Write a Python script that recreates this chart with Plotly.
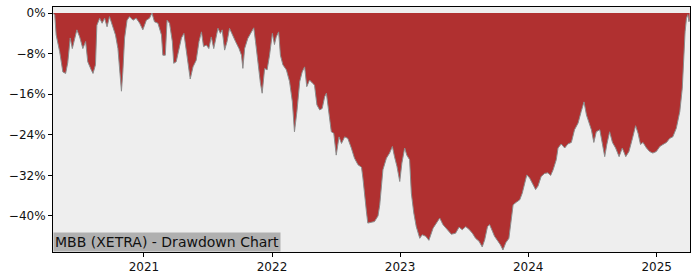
import plotly.graph_objects as go

dates = [
    "2020-04-17", "2020-04-22", "2020-04-26", "2020-05-06", "2020-05-15", "2020-05-23", "2020-05-29",
    "2020-06-05", "2020-06-11", "2020-06-18", "2020-06-24", "2020-07-02", "2020-07-11", "2020-07-19",
    "2020-07-25", "2020-08-04", "2020-08-09", "2020-08-16", "2020-08-20", "2020-08-28", "2020-09-04",
    "2020-09-11", "2020-09-18", "2020-09-25", "2020-10-03", "2020-10-12", "2020-10-19", "2020-10-24",
    "2020-10-29", "2020-11-02", "2020-11-07", "2020-11-14", "2020-11-21", "2020-12-01", "2020-12-10",
    "2020-12-20", "2020-12-29",
    "2021-01-08", "2021-01-17", "2021-01-24", "2021-01-31", "2021-02-10", "2021-02-20", "2021-02-24",
    "2021-03-03", "2021-03-08", "2021-03-15", "2021-03-23", "2021-03-27", "2021-04-03", "2021-04-11",
    "2021-04-18", "2021-04-25", "2021-05-02", "2021-05-06", "2021-05-13", "2021-05-21", "2021-05-30",
    "2021-06-07", "2021-06-14", "2021-06-20", "2021-06-28", "2021-07-05", "2021-07-12", "2021-07-19",
    "2021-07-26", "2021-07-31", "2021-08-07", "2021-08-12", "2021-08-19", "2021-08-26", "2021-09-02",
    "2021-09-10", "2021-09-19", "2021-09-29", "2021-10-06", "2021-10-10", "2021-10-15", "2021-10-24",
    "2021-11-03", "2021-11-10", "2021-11-15", "2021-11-22", "2021-11-29", "2021-12-04", "2021-12-11",
    "2021-12-18", "2021-12-25",
    "2022-01-02", "2022-01-08", "2022-01-13", "2022-01-20", "2022-01-25", "2022-02-01", "2022-02-11",
    "2022-02-20", "2022-02-28", "2022-03-06", "2022-03-13", "2022-03-21", "2022-03-28", "2022-04-04",
    "2022-04-10", "2022-04-18", "2022-04-26", "2022-05-02", "2022-05-09", "2022-05-17", "2022-05-24",
    "2022-05-31", "2022-06-05", "2022-06-12", "2022-06-19", "2022-06-26", "2022-07-03", "2022-07-11",
    "2022-07-18", "2022-07-27", "2022-08-05", "2022-08-15", "2022-08-24", "2022-09-03", "2022-09-13",
    "2022-09-17", "2022-09-22", "2022-09-27", "2022-10-01", "2022-10-11", "2022-10-20", "2022-10-30",
    "2022-11-04", "2022-11-13", "2022-11-23", "2022-12-02", "2022-12-10", "2022-12-16", "2022-12-23",
    "2022-12-31",
    "2023-01-06", "2023-01-14", "2023-01-20", "2023-01-28", "2023-02-02", "2023-02-09", "2023-02-16",
    "2023-02-26", "2023-03-05", "2023-03-15", "2023-03-24", "2023-04-05", "2023-04-16", "2023-04-24",
    "2023-05-03", "2023-05-14", "2023-05-27", "2023-06-08", "2023-06-18", "2023-06-27", "2023-07-07",
    "2023-07-16", "2023-07-26", "2023-08-04", "2023-08-14", "2023-08-23", "2023-08-30", "2023-09-07",
    "2023-09-13", "2023-09-21", "2023-09-27", "2023-10-07", "2023-10-14", "2023-10-21", "2023-10-29",
    "2023-11-07", "2023-11-14", "2023-11-19", "2023-11-28", "2023-12-08", "2023-12-15", "2023-12-22",
    "2023-12-28",
    "2024-01-05", "2024-01-13", "2024-01-22", "2024-01-29", "2024-02-07", "2024-02-17", "2024-02-26",
    "2024-03-05", "2024-03-12", "2024-03-21", "2024-03-26", "2024-04-04", "2024-04-14", "2024-04-23",
    "2024-05-03", "2024-05-12", "2024-05-22", "2024-05-31", "2024-06-08", "2024-06-15", "2024-06-22",
    "2024-06-29", "2024-07-06", "2024-07-13", "2024-07-23", "2024-07-30", "2024-08-06", "2024-08-12",
    "2024-08-20", "2024-08-28", "2024-09-06", "2024-09-16", "2024-09-25", "2024-10-05", "2024-10-14",
    "2024-10-24", "2024-11-02", "2024-11-09", "2024-11-16", "2024-11-23", "2024-12-03", "2024-12-12",
    "2024-12-21", "2024-12-31",
    "2025-01-10", "2025-01-19", "2025-01-29", "2025-02-07", "2025-02-16", "2025-02-26", "2025-03-08",
    "2025-03-15", "2025-03-19", "2025-03-23", "2025-03-27", "2025-03-31", "2025-04-03", "2025-04-05",
]

drawdown_pct = [
    0.0, -0.4, -4.3, -7.6, -11.6, -11.9, -9.8,
    -4.9, -7.0, -4.7, -3.3, -4.7, -7.0, -5.6,
    -9.6, -11.2, -11.9, -10.2, -2.4, -1.0, -2.0,
    -1.0, -2.7, -0.7, -2.4, -4.3, -7.0, -10.9,
    -15.4, -11.6, -4.9, -1.4, -0.7, -1.4, -1.0,
    -2.0, -3.3,
    -1.4, -1.0, 0.0, -1.7, -2.0, -4.3, -8.3,
    -8.3, -1.4, -2.0, -5.6, -9.9, -9.6, -7.0,
    -4.9, -4.0, -7.6, -10.2, -13.0, -10.6, -9.3,
    -5.6, -3.7, -6.6, -6.3, -7.0, -4.7, -7.0,
    -4.7, -3.0, -4.0, -3.3, -7.3, -5.6, -3.0,
    -4.3, -5.6, -7.0, -8.3, -10.9, -7.0, -5.0,
    -3.7, -2.9, -5.6, -10.2, -13.8, -15.8, -10.9,
    -11.2, -8.3,
    -4.0, -6.2, -4.7, -3.7, -8.3, -10.2, -11.2,
    -13.5, -17.5, -23.4, -19.4, -13.5, -11.6, -10.6,
    -14.5, -13.2, -13.8, -14.2, -18.1, -19.1, -18.8,
    -16.5, -15.8, -20.1, -23.4, -23.7, -28.0, -24.4,
    -25.7, -24.4, -24.7, -26.6, -28.6, -29.9, -30.4,
    -32.5, -36.5, -39.1, -41.4, -41.2, -41.1, -40.0,
    -37.8, -30.9, -28.6, -27.6, -26.3, -28.3, -30.2,
    -33.2,
    -29.6, -26.6, -28.0, -28.9, -35.5, -39.4, -42.1,
    -44.4, -43.7, -44.0, -44.8, -42.4, -41.1, -40.4,
    -41.7, -42.6, -43.6, -43.4, -42.2, -42.7, -42.1,
    -42.6, -43.4, -44.4, -45.0, -46.1, -44.7, -42.1,
    -41.7, -43.0, -44.0, -45.0, -45.7, -46.7, -45.3,
    -44.4, -41.1, -37.8, -37.3, -36.8, -35.5, -33.2,
    -31.9,
    -32.5, -33.5, -34.8, -34.1, -32.2, -31.6, -31.5,
    -32.0, -30.9, -28.9, -26.6, -25.8, -26.6, -25.8,
    -25.5, -23.0, -21.7, -19.4, -17.5, -20.1, -21.7,
    -23.0, -25.5, -23.4, -23.0, -25.5, -28.3, -25.9,
    -23.4, -25.5, -26.6, -28.3, -26.6, -28.3, -27.3,
    -24.7, -22.2, -23.7, -25.9, -25.5, -26.6, -27.3,
    -27.6, -27.3,
    -26.3, -25.9, -25.5, -24.7, -24.4, -22.7, -19.4,
    -14.8, -8.3, -3.7, -1.0, -0.3, -1.7, -1.2,
]

y_tickvals = [0, -8, -16, -24, -32, -40]
y_ticktext = ["0%", "\u22128%", "\u221216%", "\u221224%", "\u221232%", "\u221240%"]
x_tickvals = ["2021-01-01", "2022-01-01", "2023-01-01", "2024-01-01", "2025-01-01"]
x_ticktext = ["2021", "2022", "2023", "2024", "2025"]
title_text = "MBB (XETRA) - Drawdown Chart"

fig = go.Figure()
fig.add_trace(go.Scatter(
    x=dates, y=drawdown_pct, mode="lines", fill="tozeroy",
    fillcolor="#B03030", line=dict(color="#8C8C8C", width=1),
    hoverinfo="skip", showlegend=False,
))

axis_common = dict(
    showline=True, linecolor="black", linewidth=1, mirror=True,
    ticks="outside", ticklen=4, tickcolor="black", tickwidth=1,
    showgrid=False, zeroline=False, automargin=False,
    tickfont=dict(family="DejaVu Sans", size=12, color="#111111"),
)

fig.update_layout(
    width=700, height=280,
    margin=dict(l=53, r=10, t=7, b=28),
    paper_bgcolor="white", plot_bgcolor="#EEEEEE",
    xaxis=dict(range=["2020-04-17", "2025-04-06"], tickvals=x_tickvals,
               ticktext=x_ticktext, **axis_common),
    yaxis=dict(range=[-47.1, 1.2], tickvals=y_tickvals, ticktext=y_ticktext,
               **axis_common),
    annotations=[dict(
        text=title_text, xref="paper", yref="paper", x=0, y=0,
        xanchor="left", yanchor="bottom", showarrow=False,
        bgcolor="#B0B0B0", borderpad=1,
        font=dict(family="DejaVu Sans", size=14, color="#111111"),
    )],
)

fig.write_html("out.html")
